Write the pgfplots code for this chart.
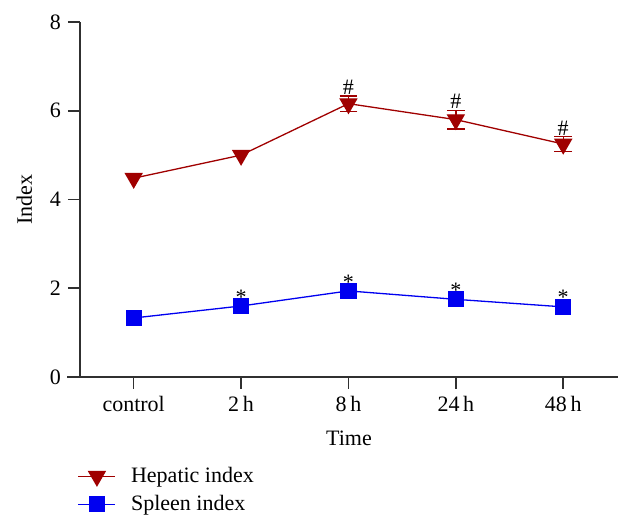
\documentclass[border=0pt]{standalone}
\usepackage{fontspec}
\setmainfont{Liberation Serif}
\usepackage{pgfplots}
\pgfplotsset{compat=1.18}

\definecolor{hepred}{HTML}{A00000}
\definecolor{splblue}{HTML}{0000F0}
\definecolor{axgray}{HTML}{303030}
\newcommand{\chartfont}{\fontsize{11}{13}\selectfont}

\begin{document}
\begin{tikzpicture}
% page = 632 x 529 px, 1 px = 0.5 pt
\useasboundingbox (0,0) rectangle (316pt,264.5pt);

\begin{axis}[
    at={(40pt,76pt)}, anchor=south west,
    width=269pt, height=177.5pt,
    scale only axis,
    xmin=-0.5, xmax=4.51,
    ymin=0, ymax=8,
    axis x line=bottom, axis y line=left,
    axis line style={-, axgray, line width=0.8pt},
    x axis line style={shorten <=-6.5pt},
    xtick={0,1,2,3,4},
    xticklabels={control,2\,h,8\,h,24\,h,48\,h},
    ytick={0,2,4,6,8},
    tick align=outside,
    major tick length=6pt,
    tick style={axgray, line width=0.8pt},
    /pgf/number format/assume math mode=true,
    every tick label/.append style={font=\chartfont},
    label style={font=\chartfont},
    xlabel={Time}, ylabel={Index},
    xlabel style={yshift=-3pt},
    ylabel style={yshift=2pt},
    legend style={
        at={(axis description cs:-0.016,-0.23)}, anchor=north west,
        draw=none, fill=none, font=\chartfont,
        row sep=1pt,
    },
    legend cell align=left,
    legend image code/.code={%
        \draw[mark repeat=2,mark phase=2,#1]
        plot coordinates {(0pt,0pt) (9.25pt,0pt) (18.5pt,0pt)};},
    clip=false,
]

% error bars of the hepatic index (drawn first, markers cover them)
\addplot[hepred, only marks, mark=none, forget plot,
    error bars/.cd, y dir=both, y explicit,
    error mark=|,
    error bar style={hepred, line width=0.65pt},
    error mark options={hepred, mark size=4.4pt, line width=0.65pt},
] coordinates {
    (2,6.16) +- (0,0.17)
    (3,5.80) +- (0,0.21)
    (4,5.25) +- (0,0.17)
};

\addplot[hepred, line width=0.65pt, mark=triangle*, mark size=4.7pt,
    mark options={rotate=180, fill=hepred, draw=hepred}]
coordinates {
    (0,4.48) (1,5.00) (2,6.16) (3,5.80) (4,5.25)
};
\addlegendentry{\hspace{5.5pt}Hepatic index}

\addplot[splblue, line width=0.65pt, mark=square*, mark size=3.7pt,
    mark options={fill=splblue, draw=splblue}]
coordinates {
    (0,1.33) (1,1.60) (2,1.94) (3,1.75) (4,1.58)
};
\addlegendentry{\hspace{5.5pt}Spleen index}

% significance marks
\node[font=\chartfont, anchor=south, inner sep=0pt] at (axis cs:2,6.36) {\#};
\node[font=\chartfont, anchor=south, inner sep=0pt] at (axis cs:3,6.04) {\#};
\node[font=\chartfont, anchor=south, inner sep=0pt] at (axis cs:4,5.44) {\#};
\node[font=\chartfont, anchor=south, inner sep=0pt] at (axis cs:1,1.62) {*};
\node[font=\chartfont, anchor=south, inner sep=0pt] at (axis cs:2,1.96) {*};
\node[font=\chartfont, anchor=south, inner sep=0pt] at (axis cs:3,1.78) {*};
\node[font=\chartfont, anchor=south, inner sep=0pt] at (axis cs:4,1.62) {*};

\end{axis}
\end{tikzpicture}
\end{document}
